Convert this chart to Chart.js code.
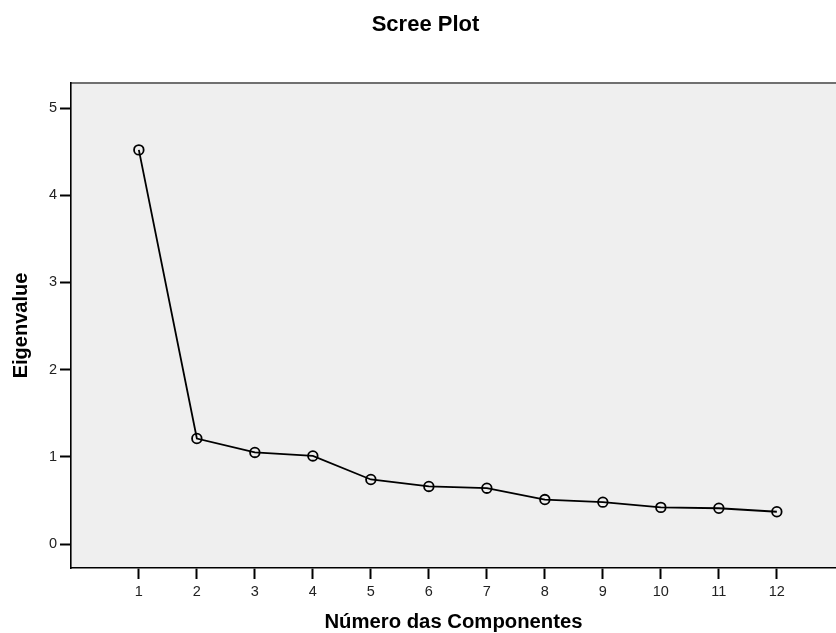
<!DOCTYPE html>
<html lang="pt">
<head>
    <meta charset="UTF-8">
    <title>Scree Plot</title>
    <script src="https://cdn.jsdelivr.net/npm/chart.js"></script>
    <style>
        body {
            margin: 0;
            padding: 0;
            background-color: #fff;
        }

        #wrap {
            width: 836px;
            height: 633px;
        }
    </style>
</head>
<body>
    <div id="wrap">
        <canvas id="myChart" width="836" height="633"></canvas>
    </div>

    <script>
        // Dados do gráfico
        var componentes = [1, 2, 3, 4, 5, 6, 7, 8, 9, 10, 11, 12];
        var eigenvalues = [4.52, 1.21, 1.05, 1.01, 0.74, 0.66, 0.64, 0.51, 0.48, 0.42, 0.41, 0.37];
        var yTicks = [0, 1, 2, 3, 4, 5];

        var tituloGrafico = 'Scree Plot';
        var tituloX = 'Número das Componentes';
        var tituloY = 'Eigenvalue';

        var fonte = '"Liberation Sans", Arial, sans-serif';

        // Fundo cinza da área do gráfico + título
        var fundoPlugin = {
            id: 'fundo',
            beforeDraw: function (chart) {
                var c = chart.ctx;
                var a = chart.chartArea;
                c.save();
                c.fillStyle = '#efefef';
                c.fillRect(a.left, a.top, a.right - a.left, a.bottom - a.top);
                c.strokeStyle = '#707070';
                c.lineWidth = 2;
                c.beginPath();
                c.moveTo(a.left, a.top);
                c.lineTo(a.right, a.top);
                c.stroke();
                c.restore();
            },
            afterDraw: function (chart) {
                var c = chart.ctx;
                c.save();
                c.fillStyle = '#000';
                c.font = 'bold 22px ' + fonte;
                c.textAlign = 'center';
                c.textBaseline = 'middle';
                c.fillText(tituloGrafico, 425.5, 25);
                c.restore();
            }
        };

        var points = componentes.map(function (x, i) {
            return { x: x, y: eigenvalues[i] };
        });

        var ctx = document.getElementById('myChart').getContext('2d');
        var myChart = new Chart(ctx, {
            type: 'line',
            data: {
                datasets: [{
                    data: points,
                    borderColor: '#000',
                    borderWidth: 1.8,
                    backgroundColor: 'rgba(0,0,0,0)',
                    pointBackgroundColor: 'rgba(0,0,0,0)',
                    pointBorderColor: '#000',
                    pointBorderWidth: 1.8,
                    pointRadius: 4.8,
                    tension: 0
                }]
            },
            options: {
                responsive: false,
                animation: false,
                layout: {
                    autoPadding: false,
                    padding: { top: 83, right: 0, left: 0, bottom: 0 }
                },
                plugins: {
                    legend: { display: false },
                    tooltip: { enabled: false }
                },
                scales: {
                    x: {
                        type: 'linear',
                        min: -0.17,
                        max: 13.02,
                        afterBuildTicks: function (scale) {
                            scale.ticks = componentes.map(function (v) { return { value: v }; });
                        },
                        afterFit: function (scale) {
                            scale.height = 65;
                            scale.paddingLeft = 0;
                            scale.paddingRight = 0;
                        },
                        grid: {
                            drawOnChartArea: false,
                            drawTicks: true,
                            tickLength: 11,
                            tickColor: '#000',
                            tickWidth: 2
                        },
                        border: { color: '#000', width: 1.6 },
                        ticks: {
                            color: '#222',
                            padding: 4,
                            font: { size: 14.5, family: fonte },
                            maxRotation: 0
                        },
                        title: {
                            display: true,
                            text: tituloX,
                            color: '#000',
                            font: { size: 20.3, weight: 'bold', family: fonte },
                            padding: { top: 0, bottom: -1.5 }
                        }
                    },
                    y: {
                        min: -0.275,
                        max: 5.287,
                        afterBuildTicks: function (scale) {
                            scale.ticks = yTicks.map(function (v) { return { value: v }; });
                        },
                        afterFit: function (scale) {
                            scale.width = 71;
                            scale.paddingTop = 0;
                            scale.paddingBottom = 0;
                        },
                        grid: {
                            drawOnChartArea: false,
                            drawTicks: true,
                            tickLength: 11,
                            tickColor: '#000',
                            tickWidth: 2
                        },
                        border: { color: '#000', width: 1.6 },
                        ticks: {
                            color: '#222',
                            padding: 3,
                            font: { size: 14.5, family: fonte }
                        },
                        title: {
                            display: true,
                            text: tituloY,
                            color: '#000',
                            font: { size: 20, weight: 'bold', family: fonte },
                            padding: { top: 9, bottom: 0 }
                        }
                    }
                }
            },
            plugins: [fundoPlugin]
        });
    </script>
</body>
</html>
